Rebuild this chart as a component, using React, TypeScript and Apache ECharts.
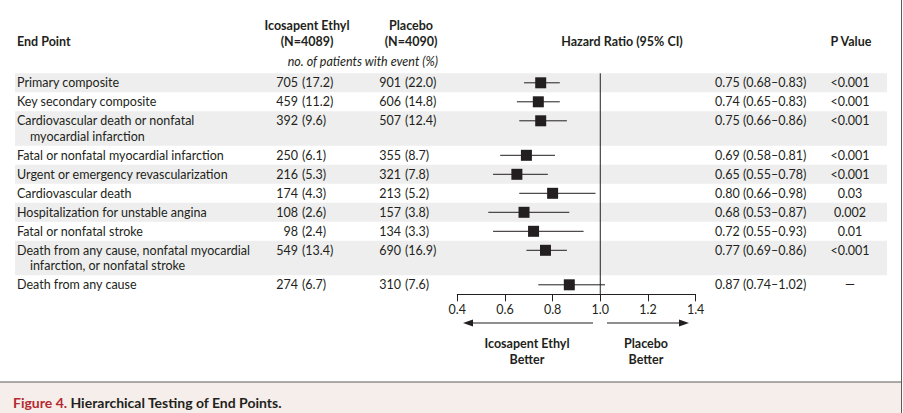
import React, { useEffect, useRef } from "react";
import * as echarts from "echarts";

// ---------- data ----------
const endPoints: string[][] = [
  ["Primary composite"],
  ["Key secondary composite"],
  ["Cardiovascular death or nonfatal", "myocardial infarction"],
  ["Fatal or nonfatal myocardial infarction"],
  ["Urgent or emergency revascularization"],
  ["Cardiovascular death"],
  ["Hospitalization for unstable angina"],
  ["Fatal or nonfatal stroke"],
  ["Death from any cause, nonfatal myocardial", "infarction, or nonfatal stroke"],
  ["Death from any cause"],
];
const icosapentEvents = [705, 459, 392, 250, 216, 174, 108, 98, 549, 274];
const icosapentPct = ["17.2", "11.2", "9.6", "6.1", "5.3", "4.3", "2.6", "2.4", "13.4", "6.7"];
const placeboEvents = [901, 606, 507, 355, 321, 213, 157, 134, 690, 310];
const placeboPct = ["22.0", "14.8", "12.4", "8.7", "7.8", "5.2", "3.8", "3.3", "16.9", "7.6"];
const hazardRatio = [0.75, 0.74, 0.75, 0.69, 0.65, 0.8, 0.68, 0.72, 0.77, 0.87];
const ciLower = [0.68, 0.65, 0.66, 0.58, 0.55, 0.66, 0.53, 0.55, 0.69, 0.74];
const ciUpper = [0.83, 0.83, 0.86, 0.81, 0.78, 0.98, 0.87, 0.93, 0.86, 1.02];
const pValues = ["<0.001", "<0.001", "<0.001", "<0.001", "<0.001", "0.03", "0.002", "0.01", "<0.001", "\u2014"];
const xTickMin = 0.4;
const xTickMax = 1.4;
const xTickStep = 0.2;

// ---------- layout ----------
const FONT = "Lato, 'Open Sans', sans-serif";
const FS = 12.5;
const INK = "#231f20";
const ROW_SINGLE = 19;
const ROW_DOUBLE = 34.5;
const LINE_GAP = 15.5;
const rowHeights = endPoints.map((l) => (l.length > 1 ? ROW_DOUBLE : ROW_SINGLE));
const rowTops: number[] = [];
rowHeights.reduce((acc, h) => {
  rowTops.push(acc);
  return acc + h;
}, 0);
const totalH = rowHeights.reduce((a, b) => a + b, 0);

const GRID_LEFT = 457.3;
const GRID_WIDTH = 238.3;
const GRID_TOP = 73.3;

const fmtHR = (i: number) =>
  `${hazardRatio[i].toFixed(2)} (${ciLower[i].toFixed(2)}\u2013${ciUpper[i].toFixed(2)})`;

function txt(text: string, x: number, y: number, opts: any = {}) {
  return {
    type: "text",
    x,
    y,
    style: {
      text,
      fill: INK,
      fontFamily: FONT,
      fontSize: FS,
      fontWeight: "normal",
      align: "left",
      verticalAlign: "middle",
      ...opts,
    },
  };
}

export default function App() {
  const ref = useRef<HTMLDivElement>(null);
  useEffect(() => {
    if (!ref.current) return;
    const chart = echarts.init(ref.current, undefined, { renderer: "svg" });

    const rowsData = endPoints.map((_, i) => [xTickMin, rowTops[i], i]);
    const forestData = hazardRatio.map((v, i) => [v, rowTops[i] + ROW_SINGLE / 2, ciLower[i], ciUpper[i]]);

    const option: any = {
      animation: false,
      backgroundColor: "#ffffff",
      grid: { left: GRID_LEFT, width: GRID_WIDTH, top: GRID_TOP, height: totalH },
      xAxis: {
        type: "value",
        min: xTickMin,
        max: xTickMax,
        interval: xTickStep,
        axisLine: { show: true, onZero: false, lineStyle: { color: INK, width: 1 } },
        axisTick: { show: true, inside: false, length: 7, lineStyle: { color: INK, width: 1 } },
        axisLabel: {
          margin: 9,
          color: INK,
          fontFamily: FONT,
          fontSize: FS,
          formatter: (v: number) => v.toFixed(1),
        },
        splitLine: { show: false },
      },
      yAxis: { type: "value", show: false, inverse: true, min: 0, max: totalH },
      series: [
        {
          type: "custom",
          name: "rows",
          z: 1,
          clip: false,
          data: rowsData,
          encode: { x: 0, y: 1 },
          renderItem: (_p: any, api: any) => {
            const i = api.value(2);
            const top = api.value(1);
            const yTop = api.coord([xTickMin, top])[1];
            const yBot = api.coord([xTickMin, top + rowHeights[i]])[1];
            const y1 = yTop + ROW_SINGLE / 2;
            const children: any[] = [];
            if (i % 2 === 0) {
              children.push({
                type: "rect",
                shape: { x: 15, y: yTop, width: 872, height: yBot - yTop },
                style: { fill: "#eeeeee" },
              });
            }
            const lines = endPoints[i];
            children.push(txt(lines[0], 17, y1));
            if (lines[1]) children.push(txt(lines[1], 30, y1 + LINE_GAP));
            children.push(txt(String(icosapentEvents[i]), 298, y1, { align: "right" }));
            children.push(txt(`(${icosapentPct[i]})`, 302, y1));
            children.push(txt(String(placeboEvents[i]), 401, y1, { align: "right" }));
            children.push(txt(`(${placeboPct[i]})`, 405, y1));
            children.push(txt(fmtHR(i), 715, y1));
            children.push(txt(pValues[i], 850, y1, { align: "center" }));
            return { type: "group", children };
          },
        },
        {
          type: "line",
          name: "reference",
          z: 2,
          data: [
            [1.0, 0],
            [1.0, totalH],
          ],
          symbol: "none",
          lineStyle: { color: INK, width: 1 },
          silent: true,
        },
        {
          type: "custom",
          name: "forest",
          z: 3,
          clip: false,
          data: forestData,
          encode: { x: 0, y: 1 },
          renderItem: (_p: any, api: any) => {
            const y = api.value(1);
            const c = api.coord([api.value(0), y]);
            const lo = api.coord([api.value(2), y]);
            const hi = api.coord([api.value(3), y]);
            const s = 11;
            return {
              type: "group",
              children: [
                {
                  type: "line",
                  shape: { x1: lo[0], y1: c[1], x2: hi[0], y2: c[1] },
                  style: { stroke: INK, lineWidth: 1 },
                },
                {
                  type: "rect",
                  shape: { x: c[0] - s / 2, y: c[1] - s / 2, width: s, height: s },
                  style: { fill: INK },
                },
              ],
            };
          },
        },
      ],
      graphic: [
        // headers
        txt("End Point", 17, 41, { fontWeight: "bold" }),
        txt("Icosapent Ethyl", 307, 25, { fontWeight: "bold", align: "center" }),
        txt("(N=4089)", 307, 41, { fontWeight: "bold", align: "center" }),
        txt("Placebo", 411, 25, { fontWeight: "bold", align: "center" }),
        txt("(N=4090)", 411, 41, { fontWeight: "bold", align: "center" }),
        txt("no. of patients with event (%)", 438, 61, { fontStyle: "italic", align: "right" }),
        txt("Hazard Ratio (95% CI)", 622, 41, { fontWeight: "bold", align: "center" }),
        txt("P Value", 851, 41, { fontWeight: "bold", align: "center" }),
        // arrows
        { type: "line", shape: { x1: 593, y1: 323, x2: 470, y2: 323 }, style: { stroke: INK, lineWidth: 1 } },
        { type: "polygon", shape: { points: [[463, 323], [473, 319.5], [473, 326.5]] }, style: { fill: INK } },
        { type: "line", shape: { x1: 607, y1: 323, x2: 680, y2: 323 }, style: { stroke: INK, lineWidth: 1 } },
        { type: "polygon", shape: { points: [[689, 323], [679, 319.5], [679, 326.5]] }, style: { fill: INK } },
        txt("Icosapent Ethyl", 527, 343, { fontWeight: "bold", align: "center" }),
        txt("Better", 527, 359, { fontWeight: "bold", align: "center" }),
        txt("Placebo", 646, 343, { fontWeight: "bold", align: "center" }),
        txt("Better", 646, 359, { fontWeight: "bold", align: "center" }),
        // caption area
        { type: "rect", shape: { x: 0, y: 382, width: 902, height: 31 }, style: { fill: "#f6eeea" } },
        { type: "line", shape: { x1: 0, y1: 382, x2: 902, y2: 382 }, style: { stroke: "#5a5a5a", lineWidth: 1 } },
        { type: "line", shape: { x1: 901.5, y1: 0, x2: 901.5, y2: 413 }, style: { stroke: "#5a5a5a", lineWidth: 1 } },
        {
          type: "text",
          x: 13,
          y: 402,
          style: {
            text: "{a|Figure 4.} {b|Hierarchical Testing of End Points.}",
            verticalAlign: "middle",
            align: "left",
            rich: {
              a: { fill: "#b52a30", fontFamily: FONT, fontSize: 14, fontWeight: "bold" },
              b: { fill: INK, fontFamily: FONT, fontSize: 14, fontWeight: "bold" },
            },
          },
        },
      ],
    };
    chart.setOption(option);
    return () => chart.dispose();
  }, []);

  return (
    <div
      ref={ref}
      style={{ position: "fixed", left: 0, top: 0, width: 903, height: 413, background: "#fff" }}
    />
  );
}
